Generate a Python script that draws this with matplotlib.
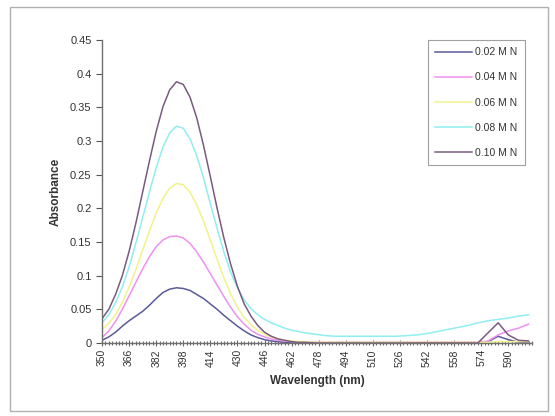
import matplotlib
matplotlib.use("Agg")
import matplotlib.pyplot as plt
from matplotlib.ticker import MultipleLocator, FuncFormatter
from matplotlib.patches import Rectangle

plt.rcParams["font.family"] = ["Liberation Sans", "DejaVu Sans"]

wavelength = [350, 354, 358, 362, 366, 370, 374, 378, 382, 386, 390, 394, 398, 402,
              406, 410, 414, 418, 422, 426, 430, 434, 438, 442, 446, 450, 454, 458,
              462, 466, 470,
              476, 482, 488, 494, 500, 506, 512, 518, 524, 530, 536, 542, 548, 554,
              560, 566, 572, 578, 584, 590, 596, 602]

abs_002 = [0.004, 0.009, 0.016, 0.025, 0.033, 0.040, 0.047, 0.056, 0.066, 0.075, 0.080,
           0.082, 0.081, 0.078, 0.072, 0.066, 0.058, 0.050, 0.041, 0.033, 0.025, 0.018,
           0.012, 0.008, 0.005, 0.003, 0.002, 0.001, 0.001, 0.0, 0.0,
           0.0, 0.0, 0.0, 0.0, 0.0, 0.0, 0.0, 0.0, 0.0, 0.0, 0.0, 0.0, 0.0, 0.0,
           0.0, 0.0, 0.0, 0.002, 0.010, 0.005, 0.001, 0.0]
abs_004 = [0.008, 0.018, 0.032, 0.050, 0.070, 0.090, 0.110, 0.128, 0.143, 0.153, 0.158,
           0.159, 0.156, 0.148, 0.135, 0.120, 0.103, 0.086, 0.069, 0.053, 0.039, 0.028,
           0.019, 0.013, 0.009, 0.006, 0.004, 0.003, 0.002, 0.001, 0.001,
           0.001, 0.001, 0.001, 0.001, 0.001, 0.001, 0.001, 0.001, 0.001, 0.001, 0.001,
           0.001, 0.001, 0.001, 0.001, 0.001, 0.001, 0.003, 0.012, 0.018, 0.022, 0.028]
abs_006 = [0.020, 0.029, 0.042, 0.060, 0.083, 0.109, 0.138, 0.166, 0.193, 0.215, 0.230,
           0.237, 0.235, 0.224, 0.205, 0.181, 0.153, 0.124, 0.097, 0.073, 0.053, 0.038,
           0.027, 0.019, 0.013, 0.009, 0.006, 0.004, 0.003, 0.002, 0.002,
           0.001, 0.001, 0.001, 0.001, 0.001, 0.001, 0.001, 0.001, 0.001, 0.001, 0.001,
           0.001, 0.001, 0.001, 0.001, 0.001, 0.001, 0.001, 0.002, 0.002, 0.002, 0.002]
abs_008 = [0.030, 0.042, 0.060, 0.083, 0.113, 0.148, 0.186, 0.224, 0.260, 0.291, 0.312,
           0.322, 0.319, 0.303, 0.278, 0.245, 0.207, 0.170, 0.135, 0.105, 0.082, 0.064,
           0.051, 0.042, 0.035, 0.030, 0.026, 0.022, 0.019, 0.017, 0.015,
           0.013, 0.011, 0.010, 0.010, 0.010, 0.010, 0.010, 0.010, 0.010, 0.011, 0.012,
           0.014, 0.017, 0.020, 0.023, 0.026, 0.030, 0.033, 0.035, 0.037, 0.040, 0.042]
abs_010 = [0.036, 0.050, 0.072, 0.100, 0.136, 0.178, 0.224, 0.270, 0.314, 0.351, 0.376,
           0.388, 0.384, 0.365, 0.334, 0.293, 0.247, 0.200, 0.156, 0.117, 0.084, 0.058,
           0.040, 0.026, 0.016, 0.010, 0.006, 0.004, 0.002, 0.001, 0.001,
           0.0, 0.0, 0.0, 0.0, 0.0, 0.0, 0.0, 0.0, 0.0, 0.0, 0.0, 0.0, 0.0, 0.0,
           0.0, 0.0, 0.0, 0.015, 0.030, 0.012, 0.004, 0.003]

series_labels = ["0.02 M N", "0.04 M N", "0.06 M N", "0.08 M N", "0.10 M N"]
series_values = [abs_002, abs_004, abs_006, abs_008, abs_010]
series_colors = ["#5a5a9a", "#f090f0", "#f2f28a", "#90eef0", "#7a5a80"]

x_tick_labels = list(range(350, 591, 16))

fig = plt.figure(figsize=(5.55, 4.16), dpi=100)
fig.patches.append(Rectangle((10 / 555, 5 / 416), 538 / 555, 404 / 416,
                             transform=fig.transFigure, fill=False,
                             edgecolor="#b0b0b0", linewidth=1.0))
ax = fig.add_axes([102 / 555, 1 - 343 / 416, 430 / 555, 303 / 416])

for vals, lab, col in zip(series_values, series_labels, series_colors):
    ax.plot(wavelength, vals, color=col, linewidth=1.1, label=lab)

ax.set_xlim(350, 604)
ax.set_ylim(0, 0.45)
ax.set_xticks(x_tick_labels)
ax.set_xticklabels([str(v) for v in x_tick_labels], rotation=90, fontsize=7.5, color="#333333")
ax.xaxis.set_minor_locator(MultipleLocator(2))
ax.yaxis.set_major_locator(MultipleLocator(0.05))
ax.yaxis.set_major_formatter(FuncFormatter(lambda v, p: ("%g" % round(v, 2))))
ax.tick_params(axis="y", labelsize=8, colors="#555555", labelcolor="#333333",
               direction="out", length=4, width=0.8)
ax.tick_params(axis="x", which="major", direction="inout", length=5, width=0.8,
               colors="#666666", labelcolor="#333333", pad=2)
ax.tick_params(axis="x", which="minor", direction="inout", length=3, width=0.8,
               colors="#666666")

for s in ["top", "right"]:
    ax.spines[s].set_visible(False)
for s in ["left", "bottom"]:
    ax.spines[s].set_color("#707070")
    ax.spines[s].set_linewidth(1.0)

ax.set_xlabel("Wavelength (nm)", fontsize=8.5, fontweight="bold", color="#333333", labelpad=6)
ax.set_ylabel("Absorbance", fontsize=8.5, fontweight="bold", color="#333333", labelpad=6)

leg = ax.legend(loc="upper right", bbox_to_anchor=(525 / 555, 1 - 40 / 416),
                bbox_transform=fig.transFigure, fontsize=7.5, frameon=True,
                fancybox=False, handlelength=3.6, handletextpad=0.3,
                labelspacing=1.45, borderpad=0.7, borderaxespad=0)
leg.get_frame().set_edgecolor("#888888")
leg.get_frame().set_linewidth(0.8)
for t in leg.get_texts():
    t.set_color("#333333")

fig.savefig("out.png", dpi=100)
